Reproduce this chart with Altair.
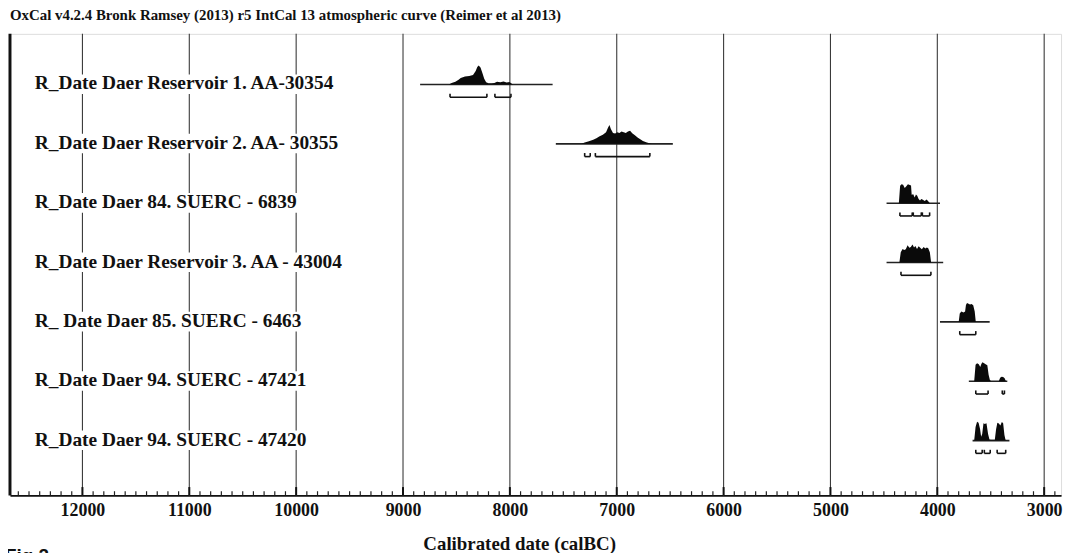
import altair as alt
import pandas as pd

# ---------------- data ----------------
TITLE = "OxCal v4.2.4 Bronk Ramsey (2013) r5 IntCal 13 atmospheric curve (Reimer et al 2013)"
X_TITLE = "Calibrated date (calBC)"
FIG_LABEL = "Fig 2"

LABELS = [
    "R_Date Daer Reservoir 1. AA-30354",
    "R_Date Daer Reservoir 2. AA- 30355",
    "R_Date Daer 84. SUERC - 6839",
    "R_Date Daer Reservoir 3. AA - 43004",
    "R_ Date Daer 85. SUERC - 6463",
    "R_Date Daer 94. SUERC - 47421",
    "R_Date Daer 94. SUERC - 47420",
]
ROWS = [0, 1, 2, 3, 4, 5, 6]

# extent of the likelihood baseline for each date (cal BC)
LINE_FROM = [8840, 7570, 4475, 4475, 3975, 3705, 3670]
LINE_TO = [7600, 6475, 3975, 3945, 3510, 3345, 3325]

# probability distributions (year, relative height) per row
DENS_YEARS = [
    [8570, 8545, 8510, 8480, 8460, 8420, 8380, 8345, 8320, 8305, 8292, 8275, 8258, 8240, 8222, 8200, 8170, 8145, 8120, 8090, 8060, 8030, 8005, 7985, 7970],
    [7330, 7300, 7260, 7220, 7190, 7160, 7130, 7100, 7082, 7068, 7055, 7035, 7015, 6995, 6975, 6955, 6935, 6915, 6895, 6875, 6855, 6830, 6805, 6780, 6755, 6725, 6695, 6670],
    [4360, 4348, 4335, 4320, 4305, 4290, 4275, 4258, 4246, 4240, 4225, 4212, 4200, 4188, 4175, 4162, 4150, 4135, 4118, 4100, 4085, 4070],
    [4355, 4342, 4325, 4310, 4295, 4278, 4262, 4248, 4232, 4218, 4205, 4190, 4175, 4160, 4145, 4128, 4112, 4098, 4085, 4070, 4058],
    [3800, 3790, 3775, 3755, 3740, 3732, 3722, 3708, 3694, 3680, 3664, 3650, 3640],
    [3655, 3642, 3628, 3612, 3598, 3588, 3578, 3562, 3548, 3532, 3520, 3508, 3495, 3425, 3412, 3398, 3384, 3370, 3358],
    [3655, 3642, 3628, 3614, 3600, 3590, 3580, 3568, 3555, 3540, 3525, 3512, 3498, 3462, 3450, 3438, 3424, 3410, 3396, 3384, 3372, 3362, 3350],
]
DENS_VALUES = [
    [0.0, 0.08, 0.14, 0.25, 0.35, 0.42, 0.45, 0.50, 0.72, 0.92, 1.00, 0.90, 0.62, 0.30, 0.12, 0.07, 0.06, 0.08, 0.14, 0.12, 0.16, 0.11, 0.13, 0.05, 0.0],
    [0.0, 0.07, 0.14, 0.22, 0.30, 0.40, 0.48, 0.62, 0.85, 1.00, 0.78, 0.58, 0.55, 0.62, 0.58, 0.66, 0.62, 0.58, 0.66, 0.70, 0.56, 0.46, 0.34, 0.24, 0.15, 0.08, 0.03, 0.0],
    [0.0, 0.92, 1.00, 0.98, 0.80, 0.90, 1.00, 0.96, 0.94, 0.45, 0.48, 0.30, 0.46, 0.40, 0.22, 0.14, 0.22, 0.18, 0.12, 0.20, 0.10, 0.0],
    [0.0, 0.55, 0.72, 0.66, 0.70, 0.92, 0.78, 0.82, 0.95, 0.80, 0.88, 0.72, 0.86, 0.78, 0.70, 0.82, 0.74, 0.80, 0.76, 0.55, 0.0],
    [0.0, 0.45, 0.55, 0.50, 0.55, 0.90, 1.00, 0.96, 0.92, 0.95, 0.88, 0.55, 0.0],
    [0.0, 0.88, 0.95, 0.90, 0.75, 0.92, 1.00, 0.96, 0.90, 0.85, 0.35, 0.06, 0.0, 0.0, 0.18, 0.24, 0.22, 0.16, 0.0],
    [0.0, 0.72, 1.00, 0.95, 0.62, 0.20, 0.35, 0.92, 0.88, 0.92, 0.35, 0.06, 0.04, 0.05, 0.60, 0.95, 0.90, 0.80, 0.98, 0.92, 0.30, 0.05, 0.0],
]

# 95.4% ranges (brackets under each distribution)
RANGE_ROW = [0, 0, 1, 1, 2, 2, 2, 3, 4, 5, 5, 6, 6, 6]
RANGE_FROM = [8560, 8140, 7300, 7200, 4350, 4225, 4140, 4340, 3790, 3640, 3392, 3640, 3560, 3440]
RANGE_TO = [8215, 7990, 7248, 6690, 4235, 4150, 4072, 4060, 3640, 3525, 3372, 3580, 3505, 3360]

MAJOR_TICKS = [12000, 11000, 10000, 9000, 8000, 7000, 6000, 5000, 4000, 3000]
MINOR_TICKS = [y for y in range(2900, 12700, 100) if y % 1000 != 0]
BROKEN_GRID = [12000, 11000, 10000]   # gridlines interrupted by the labels

# ---------------- layout constants ----------------
X_DOMAIN = [12678, 2842]
Y_TOP, Y_BOTTOM = -0.853, 6.923
DENS_SCALE = 0.318
GAP_UP, GAP_DOWN = 0.17, 0.16
BRACKET_OFF, BRACKET_TICK = 0.215, 0.06
SERIF = "Liberation Serif"

xs = alt.Scale(domain=X_DOMAIN, nice=False, zero=False)
ys = alt.Scale(domain=[Y_TOP, Y_BOTTOM], reverse=True, nice=False, zero=False)

AXIS = alt.Axis(
    values=MAJOR_TICKS, format="d", grid=False, ticks=False,
    domain=True, domainColor="#111", domainWidth=2,
    labelFont=SERIF, labelFontWeight="bold", labelFontSize=18, labelColor="#111",
    labelPadding=6, labelFlush=False, labelOverlap=False,
    title=X_TITLE, titleFont=SERIF, titleFontWeight="bold", titleFontSize=19,
    titleColor="#111", titleX=513, titleY=49, titleBaseline="middle",
)


def X(field):
    return alt.X(field, type="quantitative", scale=xs, axis=AXIS)


def Y(field):
    return alt.Y(field, type="quantitative", scale=ys, axis=None)


# ---------------- tables ----------------
full_grid = pd.DataFrame({"year": [y for y in MAJOR_TICKS if y not in BROKEN_GRID]})

seg_rows = []
for yr in BROKEN_GRID:
    edges = [Y_TOP]
    for r in ROWS:
        edges += [r - GAP_UP, r + GAP_DOWN]
    edges.append(Y_BOTTOM)
    for a, b in zip(edges[0::2], edges[1::2]):
        seg_rows.append({"year": yr, "y1": a, "y2": b})
broken_grid = pd.DataFrame(seg_rows)

lines = pd.DataFrame({"row": ROWS, "x1": LINE_FROM, "x2": LINE_TO})

dens_rows = []
for r, yrs, vals in zip(ROWS, DENS_YEARS, DENS_VALUES):
    for yv, dv in zip(yrs, vals):
        dens_rows.append({"row": r, "year": yv, "dens": dv})
dens = pd.DataFrame(dens_rows)

ranges = pd.DataFrame({"row": RANGE_ROW, "x1": RANGE_FROM, "x2": RANGE_TO})
ends = pd.DataFrame({
    "row": RANGE_ROW + RANGE_ROW,
    "year": RANGE_FROM + RANGE_TO,
})

labels = pd.DataFrame({"row": ROWS, "label": LABELS})
minor = pd.DataFrame({"year": MINOR_TICKS})
major = pd.DataFrame({"year": MAJOR_TICKS})
left_edge = pd.DataFrame({"year": [X_DOMAIN[0]]})
fig = pd.DataFrame({"t": [FIG_LABEL]})

# ---------------- layers ----------------
grid_full = alt.Chart(full_grid).mark_rule(color="#3a3a3a", strokeWidth=1.1).encode(x=X("year"))

grid_broken = alt.Chart(broken_grid).mark_rule(color="#3a3a3a", strokeWidth=1.1).encode(
    x=X("year"), y=Y("y1"), y2="y2"
)

frame_left = alt.Chart(left_edge).mark_rule(color="#111", strokeWidth=3).encode(x=X("year"))

minor_ticks = alt.Chart(minor).transform_calculate(
    y1=f"{Y_BOTTOM}", y2=f"{Y_BOTTOM - 0.07}"
).mark_rule(color="#222", strokeWidth=1.2).encode(x=X("year"), y=Y("y1"), y2="y2")

major_ticks = alt.Chart(major).transform_calculate(
    y1=f"{Y_BOTTOM}", y2=f"{Y_BOTTOM - 0.14}"
).mark_rule(color="#111", strokeWidth=2).encode(x=X("year"), y=Y("y1"), y2="y2")

base_lines = alt.Chart(lines).mark_rule(color="#222", strokeWidth=1.6).encode(
    x=X("x1"), x2="x2", y=Y("row")
)

areas = alt.Chart(dens).transform_calculate(
    top=f"datum.row - datum.dens * {DENS_SCALE}"
).mark_area(color="#0a0a0a", interpolate="linear", orient="vertical").encode(
    x=X("year"), y=Y("top"), y2="row", detail="row:N"
)

brackets = alt.Chart(ranges).transform_calculate(
    yb=f"datum.row + {BRACKET_OFF}"
).mark_rule(color="#111", strokeWidth=1.6).encode(x=X("x1"), x2="x2", y=Y("yb"))

bracket_ends = alt.Chart(ends).transform_calculate(
    yb=f"datum.row + {BRACKET_OFF}", yt=f"datum.row + {BRACKET_OFF - BRACKET_TICK}"
).mark_rule(color="#111", strokeWidth=1.6).encode(x=X("year"), y=Y("yb"), y2="yt")

text = alt.Chart(labels).mark_text(
    align="left", baseline="middle", font=SERIF, fontWeight="bold", fontSize=19.5, color="#111", dy=-1
).encode(x=alt.value(25), y=Y("row"), text="label:N")

fig_text = alt.Chart(fig).mark_text(
    align="left", baseline="top", font="Liberation Sans", fontWeight="bold", fontSize=19, color="#111"
).encode(x=alt.value(-5), y=alt.value(517), text="t:N")

chart = alt.layer(
    grid_full, grid_broken, frame_left, minor_ticks, major_ticks, base_lines, areas,
    brackets, bracket_ends, text, fig_text
).properties(
    width=1059,
    height=465,
    title=alt.TitleParams(
        text=TITLE, anchor="start", frame="group", font=SERIF, fontSize=15, fontWeight="bold",
        color="#111", offset=9, baseline="bottom", dy=15,
    ),
    autosize=alt.AutoSizeParams(type="none"),
    padding={"left": 2, "top": 24, "right": 8, "bottom": 56},
).configure_view(stroke="#111", strokeWidth=1.6).configure(background="white")

chart.save("out.html", embed_options={"renderer": "svg", "actions": False})
